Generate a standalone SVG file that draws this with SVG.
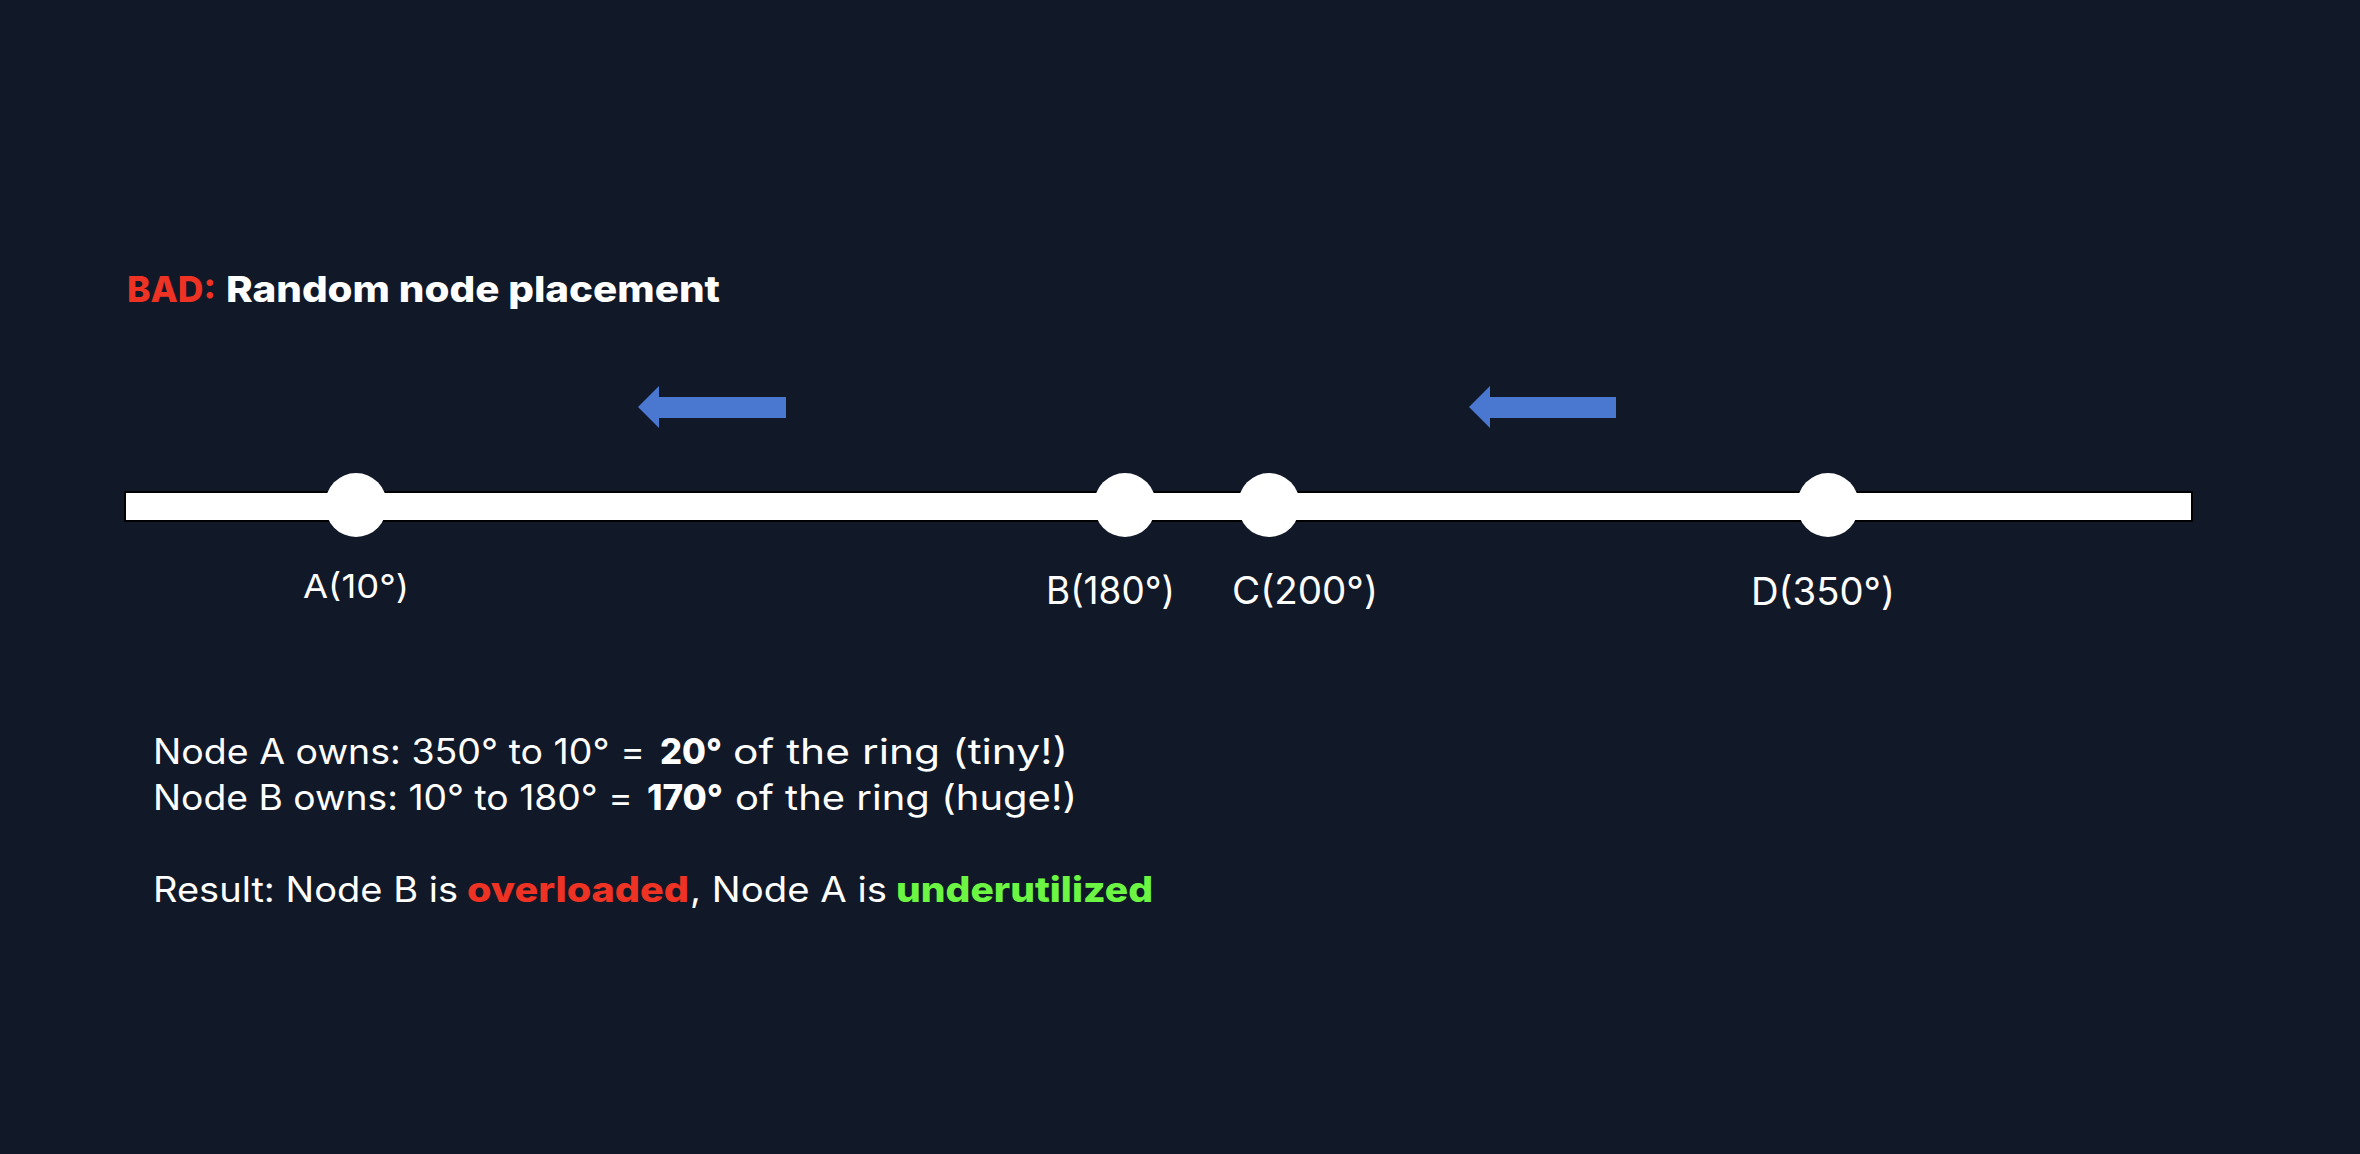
<svg xmlns="http://www.w3.org/2000/svg" width="2360" height="1154" viewBox="0 0 2360 1154">
<style>
  text { font-family: Inter, "Open Sans", "Liberation Sans", sans-serif; fill: #ffffff; font-weight: 400; }
  .b { font-weight: 800; }
  .title { font-size: 36px; }
  .body { font-size: 35px; }
  .lbl { font-size: 38px; }
  .lbl-s { font-size: 33px; }
  .red { fill: #EE3224; }
  .grn { fill: #6CF542; }
  .arrow { fill: #4A77D0; }
  .dot { fill: #ffffff; }
  .ring { fill: #ffffff; stroke: #000000; stroke-width: 2; }
</style>
<rect x="0" y="0" width="2360" height="1154" fill="#111827"/>

<g id="title">
  <text class="title b red" x="127" y="302" textLength="89" lengthAdjust="spacingAndGlyphs">BAD:</text>
  <text class="title b" x="226" y="302" textLength="494" lengthAdjust="spacingAndGlyphs">Random node placement</text>
</g>

<g id="ring-line">
  <rect class="ring" x="125" y="492" width="2067" height="29"/>
</g>

<g id="connectors">
  <polygon class="arrow" points="638,407 659,386 659,397 786,397 786,418 659,418 659,428"/>
  <polygon class="arrow" points="1469,407 1490,386 1490,397 1616,397 1616,418 1490,418 1490,428"/>
</g>

<g id="node-a">
  <ellipse class="dot" cx="356" cy="505" rx="31" ry="32"/>
  <text class="lbl-s" x="303" y="598" textLength="106" lengthAdjust="spacingAndGlyphs">A(10°)</text>
</g>
<g id="node-b">
  <ellipse class="dot" cx="1125" cy="505" rx="31" ry="32"/>
  <text class="lbl" x="1046" y="604" textLength="129" lengthAdjust="spacingAndGlyphs">B(180°)</text>
</g>
<g id="node-c">
  <ellipse class="dot" cx="1269" cy="505" rx="31" ry="32"/>
  <text class="lbl" x="1232" y="604" textLength="146" lengthAdjust="spacingAndGlyphs">C(200°)</text>
</g>
<g id="node-d">
  <ellipse class="dot" cx="1828" cy="505" rx="31" ry="32"/>
  <text class="lbl" x="1751" y="605" textLength="144" lengthAdjust="spacingAndGlyphs">D(350°)</text>
</g>

<g id="explanation">
  <text class="body" x="153" y="764" textLength="492" lengthAdjust="spacingAndGlyphs">Node A owns: 350° to 10° =</text>
  <text class="body b" x="660" y="764" textLength="62" lengthAdjust="spacingAndGlyphs">20°</text>
  <text class="body" x="733" y="764" textLength="335" lengthAdjust="spacingAndGlyphs">of the ring (tiny!)</text>

  <text class="body" x="153" y="810" textLength="480" lengthAdjust="spacingAndGlyphs">Node B owns: 10° to 180° =</text>
  <text class="body b" x="647" y="810" textLength="76" lengthAdjust="spacingAndGlyphs">170°</text>
  <text class="body" x="735" y="810" textLength="342" lengthAdjust="spacingAndGlyphs">of the ring (huge!)</text>

  <text class="body" x="153" y="902" textLength="305" lengthAdjust="spacingAndGlyphs">Result: Node B is</text>
  <text class="body b red" x="467" y="902" textLength="222" lengthAdjust="spacingAndGlyphs">overloaded</text>
  <text class="body" x="690" y="902" textLength="197" lengthAdjust="spacingAndGlyphs">, Node A is</text>
  <text class="body b grn" x="896" y="902" textLength="257" lengthAdjust="spacingAndGlyphs">underutilized</text>
</g>
</svg>
